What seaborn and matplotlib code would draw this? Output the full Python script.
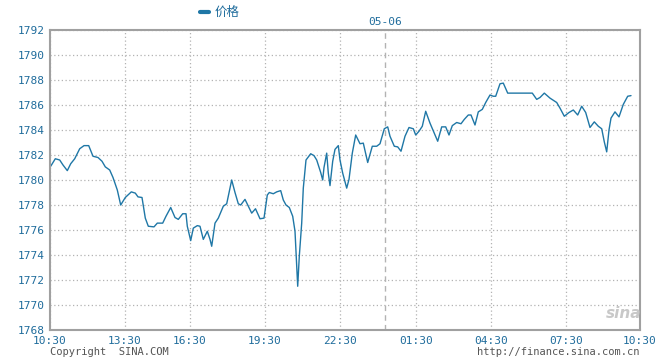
import matplotlib
matplotlib.use("Agg")
import matplotlib.pyplot as plt
import seaborn as sns
import pandas as pd
from matplotlib.lines import Line2D

# ---- data (x = position along the time axis, price) ----
pos = [0.7, 5.3, 9.7, 13, 17.3, 20.7, 24.7, 29.7, 34, 38.7, 43, 48, 52, 55.3, 59.7, 63, 67.3, 70.7,
       75.3, 81.3, 85.3, 88, 92, 95.3, 98.3, 104, 107.3, 112.7, 116, 120.7, 125, 128.3, 132.7, 136,
       137.3, 140.7, 143.3, 147.3, 150, 153.3, 157.3, 160, 161.7, 165, 168.3, 173.3, 176.7, 181.7,
       185, 188.3, 190.7, 195, 198.3, 201.7, 205.5, 210, 214, 217.3, 219.3, 223.3, 226.7, 230.7,
       233.3, 236, 239.3, 242.7, 245, 246.7, 247.7, 249.3, 251.7, 253.3, 256, 260.7, 264, 266.7,
       270.7, 272.7, 274, 276.7, 278.3, 280, 282.7, 285, 288.3, 290, 292.7, 296.7, 299, 302.3,
       305.7, 310, 313.3, 317.7, 322.3, 326.7, 330, 334.3, 337.7, 340, 344.3, 347.7, 351, 355,
       359, 363.3, 365.7, 369, 372.3, 375.7, 380, 384.3, 387.7, 391.7, 395.7, 399, 402.3, 406.7,
       411, 414.3, 418.3, 421, 425, 428.3, 432.3, 435.7, 440, 443.3, 445.7, 450, 453.3, 457.7,
       482.3, 486.7, 490, 494.3, 500, 506.7, 510, 514.3, 519, 523.3, 527.7, 531.7, 535.7, 540,
       544.3, 548.3, 551.7, 554.3, 556.7, 559, 561, 565, 569, 573.3, 577.7, 581]
price = [1781.1, 1781.7, 1781.6, 1781.2, 1780.75, 1781.3, 1781.7, 1782.5, 1782.75, 1782.75, 1781.9,
         1781.8, 1781.5, 1781.05, 1780.8, 1780.2, 1779.2, 1778.0, 1778.6, 1779.05, 1778.95, 1778.65,
         1778.6, 1776.95, 1776.3, 1776.25, 1776.55, 1776.55, 1777.1, 1777.8, 1777.0, 1776.85,
         1777.3, 1777.3, 1776.3, 1775.15, 1776.15, 1776.35, 1776.3, 1775.25, 1775.9, 1775.25,
         1774.7, 1776.55, 1776.95, 1777.9, 1778.1, 1780.0, 1779.0, 1778.1, 1778.0, 1778.45,
         1777.9, 1777.35, 1777.7, 1776.9, 1776.95, 1778.8, 1779.0, 1778.9, 1779.05, 1779.15,
         1778.4, 1778.0, 1777.8, 1777.1, 1775.9, 1773.1, 1771.5, 1773.9, 1776.55, 1779.35,
         1781.6, 1782.1, 1781.95, 1781.6, 1780.6, 1780.0, 1781.0, 1782.15, 1780.55, 1779.55,
         1781.5, 1782.45, 1782.75, 1781.6, 1780.55, 1779.35, 1780.05, 1782.15, 1783.6, 1782.9,
         1782.95, 1781.4, 1782.7, 1782.7, 1782.9, 1784.1, 1784.25, 1783.5, 1782.7, 1782.65,
         1782.3, 1783.5, 1784.2, 1784.1, 1783.6, 1783.9, 1784.3, 1785.5, 1784.55, 1783.75,
         1783.1, 1784.25, 1784.25, 1783.6, 1784.35, 1784.6, 1784.5, 1784.85, 1785.2, 1785.2,
         1784.4, 1785.45, 1785.65, 1786.2, 1786.8, 1786.7, 1786.7, 1787.7, 1787.75, 1786.95,
         1786.95, 1786.45, 1786.6, 1786.95, 1786.55, 1786.2, 1785.75, 1785.1, 1785.4, 1785.6,
         1785.2, 1785.9, 1785.4, 1784.2, 1784.65, 1784.3, 1784.1, 1783.05, 1782.25, 1784.0,
         1784.95, 1785.45, 1785.05, 1786.05, 1786.7, 1786.75]
tick_pos = [0, 75, 140, 215, 290, 366, 441, 516, 590]
tick_labels = ["10:30", "13:30", "16:30", "19:30", "22:30", "01:30", "04:30", "07:30", "10:30"]
y_ticks = list(range(1768, 1793, 2))
date_pos = 335
date_label = "05-06"
series_name = "价格"

df = pd.DataFrame({"pos": pos, "price": price})

LINE = "#1f77a6"
LBL = "#1f6c9c"
W, H = 660, 360

sns.set_theme(style="white")
plt.rcParams["font.family"] = ["DejaVu Sans Mono", "Noto Sans CJK SC"]

fig = plt.figure(figsize=(6.6, 3.6), dpi=100)
ax = fig.add_axes([50 / W, 30 / H, 590 / W, 300 / H])

sns.lineplot(data=df, x="pos", y="price", ax=ax, color=LINE, linewidth=1.0)

ax.set_xlim(0, 590)
ax.set_ylim(1768, 1792)
ax.set_xticks(tick_pos)
ax.set_xticklabels(tick_labels)
ax.set_yticks(y_ticks)
ax.set_yticklabels([str(v) for v in y_ticks])
ax.set_xlabel("")
ax.set_ylabel("")
ax.tick_params(axis="both", length=0, colors=LBL, labelsize=8)
ax.tick_params(axis="y", pad=4)
ax.tick_params(axis="x", pad=4)

ax.grid(True, color="#b3b3b3", linestyle=(0, (1, 2)), linewidth=0.9)
ax.axvline(date_pos, color="#b3b3b3", linestyle=(0, (4, 3)), linewidth=1.0)
for s in ax.spines.values():
    s.set_color("#a0a0a0")
    s.set_linewidth(1.5)

# date label above divider
fig.text((50 + date_pos) / W, 1 - 22 / H, date_label, color=LBL, fontsize=8,
         ha="center", va="center")

# legend
fig.add_artist(Line2D([200 / W, 209 / W], [1 - 12 / H, 1 - 12 / H], color=LINE, linewidth=3,
                      transform=fig.transFigure))
fig.text(215 / W, 1 - 12 / H, series_name, color=LBL, fontsize=9, va="center", ha="left",
         family=["Noto Sans CJK SC", "DejaVu Sans"])

# footer
fig.text(50 / W, 1 - 352 / H, "Copyright  SINA.COM", color="#555555", fontsize=7.5,
         va="center", ha="left")
fig.text(640 / W, 1 - 352 / H, "http://finance.sina.com.cn", color="#555555", fontsize=7.5,
         va="center", ha="right")
# faint watermark
fig.text(624 / W, 1 - 314 / H, "sina", color="#c8c8c8", fontsize=11, style="italic",
         fontweight="bold", va="center", ha="center", family=["DejaVu Sans"])

fig.savefig("out.png", dpi=100)
